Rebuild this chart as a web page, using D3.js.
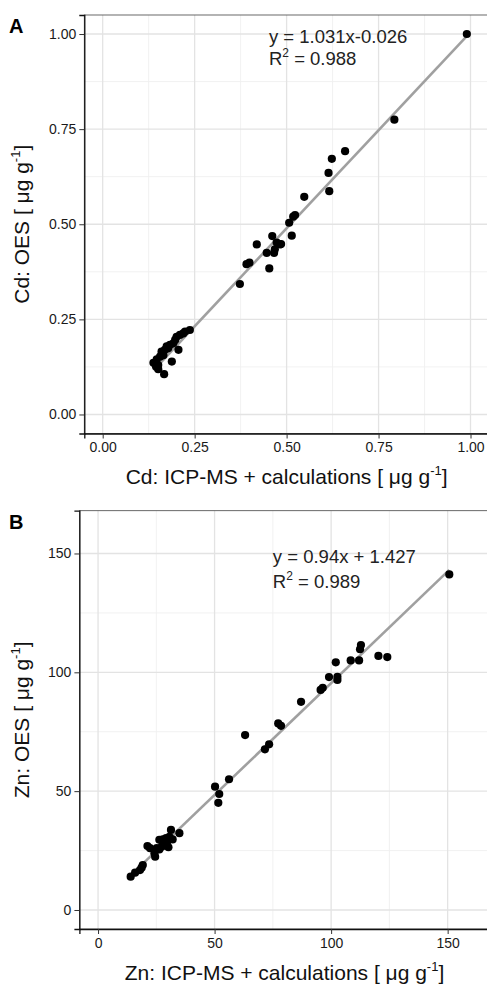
<!DOCTYPE html>
<html>
<head>
<meta charset="utf-8">
<script src="https://cdn.jsdelivr.net/npm/d3@7"></script>
<style>
  body { margin: 0; background: #fff; }
  text { font-family: "Liberation Sans", Arial, sans-serif; }
</style>
</head>
<body>
<svg id="chart" width="487" height="984"></svg>
<script>
// Panel A: Cd, ICP-MS + calculations vs OES
var cdIcp = [0.99, 0.793, 0.659, 0.623, 0.614, 0.616, 0.548, 0.523, 0.518, 0.507, 0.514, 0.485,
  0.461, 0.419, 0.473, 0.482, 0.468, 0.446, 0.466, 0.453, 0.391, 0.399, 0.373,
  0.237, 0.224, 0.21, 0.201, 0.197, 0.206, 0.183, 0.178, 0.169, 0.16, 0.165, 0.188,
  0.156, 0.147, 0.138, 0.145, 0.151, 0.167, 0.151, 0.174, 0.192, 0.219];
var cdOes = [1.0, 0.775, 0.692, 0.672, 0.635, 0.587, 0.572, 0.524, 0.52, 0.504, 0.47, 0.448,
  0.469, 0.447, 0.452, 0.447, 0.434, 0.425, 0.425, 0.384, 0.395, 0.399, 0.343,
  0.222, 0.218, 0.209, 0.204, 0.196, 0.17, 0.183, 0.174, 0.17, 0.165, 0.156, 0.139,
  0.152, 0.145, 0.136, 0.126, 0.119, 0.106, 0.13, 0.179, 0.187, 0.213];

// Panel B: Zn
var znIcp = [150.7, 112.8, 112.4, 108.4, 112, 120.3, 124.1, 102, 99.1, 102.7, 102.7, 96.4, 95.5,
  87.1, 77.3, 78.5, 73.4, 71.6, 63.1, 56.2, 50.2, 52, 51.6, 34.9, 31.3, 30.6, 27.8, 29.2,
  29.5, 30.2, 27.3, 26.3, 25.2, 24.2, 21.2, 22.3, 24.5, 19.2, 18.7, 18, 15.9, 14, 32, 28, 26.3];
var znOes = [141.2, 111.5, 109.7, 105, 105, 106.9, 106.4, 104.2, 98, 98.1, 96.8, 93.5, 92.6,
  87.6, 78.5, 77.5, 69.7, 67.6, 73.6, 55, 51.9, 48.8, 45.1, 32.3, 33.7, 30.8, 29.7, 30.2,
  28.1, 26.4, 26.6, 25.5, 26, 23.9, 26.9, 26, 22.4, 18.9, 17.8, 16.8, 15.7, 14, 29.7, 28.1, 29.5];

var cdTicks = [0, 0.25, 0.5, 0.75, 1.0];
var cdMinor = [0.125, 0.375, 0.625, 0.875];
var znTicks = [0, 50, 100, 150];
var znMinor = [25, 75, 125];

var cdFit = {slope: 1.031, icept: -0.026, eq: "y = 1.031x-0.026", r2: "0.988"};
var znFit = {slope: 0.94, icept: 1.427, eq: "y = 0.94x + 1.427", r2: "0.989"};

var svg = d3.select("#chart");
svg.append("rect").attr("width", 487).attr("height", 984).attr("fill", "#fff");

function drawPanel(cfg) {
    var g = svg.append("g");
    var x = d3.scaleLinear().domain(cfg.domain).range(cfg.xr);
    var y = d3.scaleLinear().domain(cfg.domain).range(cfg.yr);

    //grid
    g.selectAll(".minx").data(cfg.minor).enter().append("line")
        .attr("x1", function (d) {return x(d);}).attr("x2", function (d) {return x(d);})
        .attr("y1", cfg.yr[0]).attr("y2", cfg.yr[1])
        .attr("stroke", "#efefef").attr("stroke-width", 0.9);
    g.selectAll(".miny").data(cfg.minor).enter().append("line")
        .attr("y1", function (d) {return y(d);}).attr("y2", function (d) {return y(d);})
        .attr("x1", cfg.xr[0]).attr("x2", cfg.xr[1])
        .attr("stroke", "#efefef").attr("stroke-width", 0.9);
    g.selectAll(".majx").data(cfg.ticks).enter().append("line")
        .attr("x1", function (d) {return x(d);}).attr("x2", function (d) {return x(d);})
        .attr("y1", cfg.yr[0]).attr("y2", cfg.yr[1])
        .attr("stroke", "#e3e3e3").attr("stroke-width", 1.3);
    g.selectAll(".majy").data(cfg.ticks).enter().append("line")
        .attr("y1", function (d) {return y(d);}).attr("y2", function (d) {return y(d);})
        .attr("x1", cfg.xr[0]).attr("x2", cfg.xr[1])
        .attr("stroke", "#e3e3e3").attr("stroke-width", 1.3);

    //panel border (top / right)
    g.append("rect").attr("x", cfg.xr[0]).attr("y", cfg.yr[1])
        .attr("width", cfg.xr[1] - cfg.xr[0]).attr("height", cfg.yr[0] - cfg.yr[1])
        .attr("fill", "none").attr("stroke", "#444").attr("stroke-width", 0.8);

    //regression line over data range
    var xs = d3.extent(cfg.xv);
    g.append("line")
        .attr("x1", x(xs[0])).attr("y1", y(cfg.fit.slope * xs[0] + cfg.fit.icept))
        .attr("x2", x(xs[1])).attr("y2", y(cfg.fit.slope * xs[1] + cfg.fit.icept))
        .attr("stroke", "#a0a0a0").attr("stroke-width", 2.6);

    g.selectAll(".pt").data(cfg.xv).enter().append("circle")
        .attr("cx", function (d) {return x(d);})
        .attr("cy", function (d, i) {return y(cfg.yv[i]);})
        .attr("r", 4.1).attr("fill", "#000");

    //axes
    var xAxis = g.append("g").attr("transform", "translate(0," + cfg.yr[0] + ")")
        .call(d3.axisBottom(x).tickValues(cfg.ticks).tickFormat(cfg.fmt).tickSizeOuter(0).tickSize(5).tickPadding(4));
    var yAxis = g.append("g").attr("transform", "translate(" + cfg.xr[0] + ",0)")
        .call(d3.axisLeft(y).tickValues(cfg.ticks).tickFormat(cfg.fmt).tickSizeOuter(0).tickSize(5).tickPadding(3));
    [xAxis, yAxis].forEach(function (a) {
        a.select(".domain").attr("stroke", "#111").attr("stroke-width", 1.3);
        a.selectAll(".tick line").attr("stroke", "#333").attr("stroke-width", 1);
        a.selectAll(".tick text").attr("fill", "#1a1a1a").style("font-size", "14px")
            .style("font-family", "Liberation Sans, Arial, sans-serif");
    });

    //axis titles
    var xt = g.append("text").attr("x", (cfg.xr[0] + cfg.xr[1]) / 2).attr("y", cfg.xTitleY)
        .attr("text-anchor", "middle").style("font-size", "21px").attr("fill", "#111");
    xt.append("tspan").text(cfg.el + ": ICP-MS + calculations [ \u03bcg g");
    xt.append("tspan").attr("dy", -9).style("font-size", "13px").text("-1");
    xt.append("tspan").attr("dy", 9).text("]");

    var yt = g.append("text")
        .attr("transform", "translate(" + 29 + "," + (cfg.yr[0] + cfg.yr[1]) / 2 + ") rotate(-90)")
        .attr("text-anchor", "middle").style("font-size", "21px").attr("fill", "#111");
    yt.append("tspan").text(cfg.el + ": OES [ \u03bcg g");
    yt.append("tspan").attr("dy", -9).style("font-size", "13px").text("-1");
    yt.append("tspan").attr("dy", 9).text("]");

    //equation
    var ex = x(cfg.eqPos[0]), ey = y(cfg.eqPos[1]);
    g.append("text").attr("x", ex).attr("y", ey).style("font-size", "18.5px").attr("fill", "#222")
        .text(cfg.fit.eq);
    var r2 = g.append("text").attr("x", ex).attr("y", ey + cfg.eqGap).style("font-size", "18.5px").attr("fill", "#222");
    r2.append("tspan").text("R");
    r2.append("tspan").attr("dy", -8).style("font-size", "12px").text("2");
    r2.append("tspan").attr("dy", 8).text(" = " + cfg.fit.r2);

    //panel letter
    g.append("text").attr("x", 9).attr("y", cfg.yr[1] + 18).style("font-size", "20px")
        .style("font-weight", "bold").text(cfg.letter);
}

drawPanel({
    letter: "A", el: "Cd", xv: cdIcp, yv: cdOes, fit: cdFit,
    domain: [-0.05, 1.05], xr: [84.3, 488.9], yr: [433.5, 15],
    ticks: cdTicks, minor: cdMinor, fmt: d3.format(".2f"),
    xTitleY: 484, eqPos: [0.452, 0.976], eqGap: 22
});

drawPanel({
    letter: "B", el: "Zn", xv: znIcp, yv: znOes, fit: znFit,
    domain: [-8, 168], xr: [79.4, 489.6], yr: [929, 510.7],
    ticks: znTicks, minor: znMinor, fmt: d3.format("d"),
    xTitleY: 980, eqPos: [75, 146.1], eqGap: 25
});
</script>
</body>
</html>
